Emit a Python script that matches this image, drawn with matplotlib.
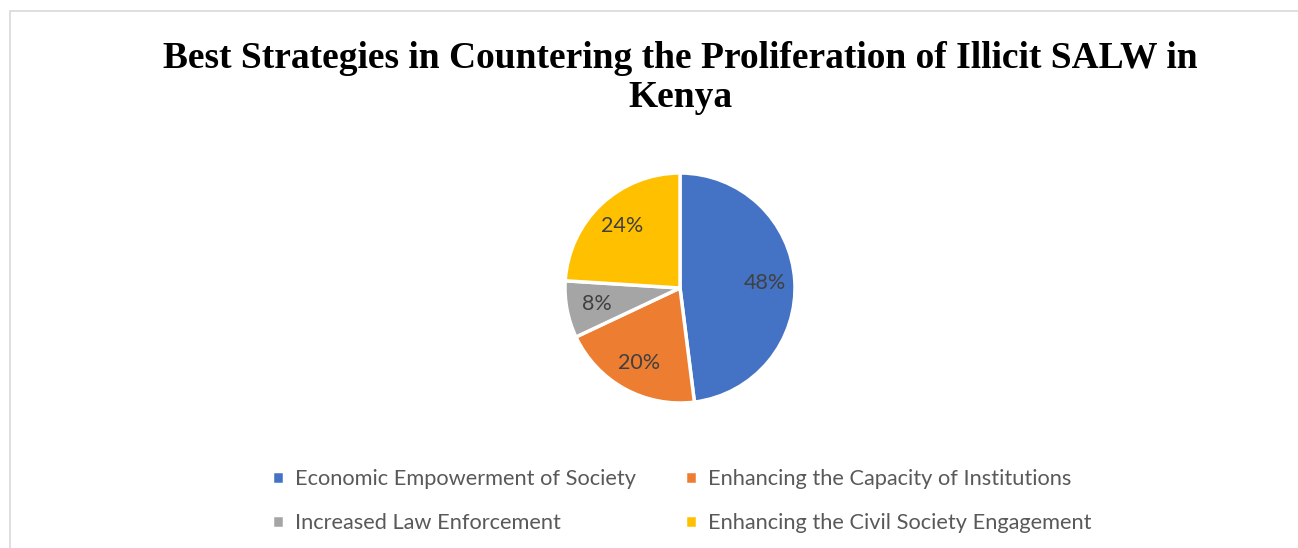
import matplotlib
matplotlib.use("Agg")
import matplotlib.pyplot as plt
from matplotlib.patches import Rectangle

# Survey responses: best strategies against illicit SALW
strategies = [
    "Economic Empowerment of Society",
    "Enhancing the Capacity of Institutions",
    "Increased Law Enforcement",
    "Enhancing the Civil Society Engagement",
]
shares = [48, 20, 8, 24]
colors = ["#4472C4", "#ED7D31", "#A5A5A5", "#FFC000"]

W, H = 1298, 548
fig = plt.figure(figsize=(W / 100, H / 100), dpi=100)

# chart area border (runs off the right and bottom edges)
fig.patches.append(Rectangle((10 / W, -0.1), 1.2, 1 - 11 / H + 0.1,
                             transform=fig.transFigure, fill=False,
                             edgecolor="#D9D9D9", linewidth=1.2))

# two-line title; baseline of the last line
fig.text(680 / W, 1 - 107 / H,
         "Best Strategies in Countering the Proliferation of Illicit SALW in\nKenya",
         ha="center", va="baseline", fontsize=27, fontweight="bold",
         family="Liberation Serif", linespacing=1.15)

# pie centred at (680, 288) px with a 115 px radius
cx, cy, r = 680, 288, 115
ax = fig.add_axes([(cx - r) / W, (H - cy - r) / H, 2 * r / W, 2 * r / H])
wedges, texts, autotexts = ax.pie(
    shares, colors=colors, startangle=90, counterclock=False,
    autopct="%d%%", pctdistance=0.74,
    wedgeprops=dict(edgecolor="white", linewidth=2.5),
    textprops=dict(color="#404040", fontsize=15.5, family="Lato"))
ax.set_xlim(-1, 1)
ax.set_ylim(-1, 1)

# legend filled row by row
order = [0, 2, 1, 3]
leg = fig.legend([wedges[i] for i in order], [strategies[i] for i in order],
                 ncol=2, loc="center left",
                 bbox_to_anchor=(261 / W, 1 - 501 / H), frameon=False,
                 handlelength=0.55, handleheight=0.55, handletextpad=0.5,
                 columnspacing=2.25, labelspacing=1.12, borderpad=0,
                 prop=dict(family="Lato", size=15.7))
for t in leg.get_texts():
    t.set_color("#595959")

fig.savefig("out.png", dpi=100)
